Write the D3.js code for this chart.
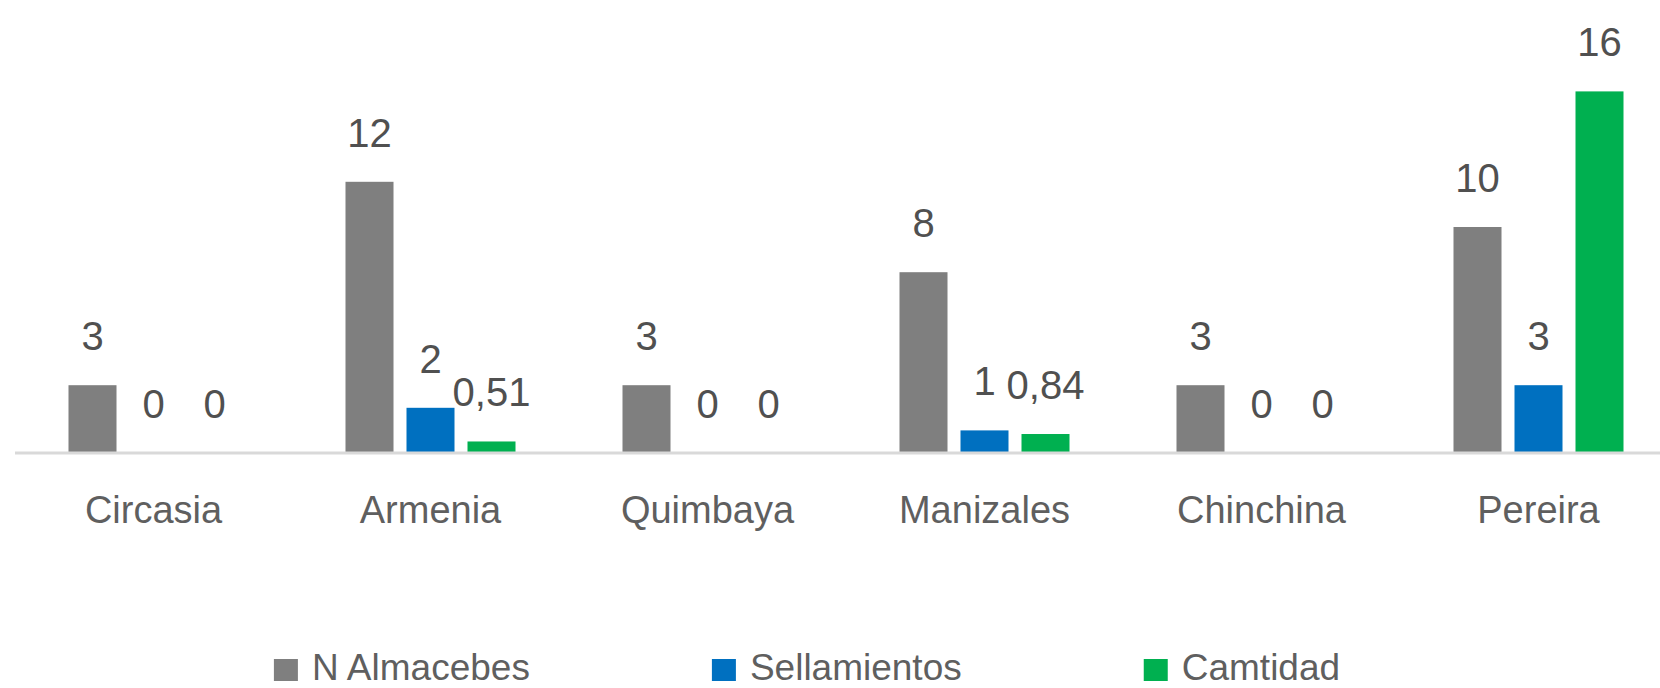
<!DOCTYPE html>
<html>
<head>
<meta charset="utf-8">
<script src="https://cdn.jsdelivr.net/npm/d3@7"></script>
<style>
  body { margin:0; background:#ffffff; }
  svg { display:block; }
  text { font-family: "Liberation Sans", Arial, sans-serif; }
</style>
</head>
<body>
<svg width="1660" height="688"></svg>
<script>
//---------------- data
let cities = ['Circasia','Armenia','Quimbaya','Manizales','Chinchina','Pereira'];
let seriesNames = ['N Almacebes','Sellamientos','Camtidad'];
let almacenes = [3,12,3,8,3,10];
let sellamientos = [0,2,0,1,0,3];
let cantidad = [0,0.51,0,0.84,0,16];
let colors = ['#7f7f7f','#0070c0','#00b050'];

let values = [almacenes, sellamientos, cantidad];
//--------------------------------------
let svg = d3.select("svg");
let width = +svg.attr("width");

let baseY = 453;

let x0 = d3.scaleBand()
    .domain(cities)
    .range([15, 15 + 277 * cities.length]);

let x1 = d3.scaleBand()
    .domain(seriesNames)
    .range([0, 170])
    .paddingInner(13 / 61);

let groupOffset = (x0.bandwidth() - 170) / 2;

let y = d3.scaleLinear()
    .domain([0, 18])
    .range([baseY, baseY - 18 * 22.6]);

function fmt(v){
  return String(v).replace('.', ',');
}

let rows = [];
seriesNames.forEach(function(s, si){
  cities.forEach(function(c, ci){
    rows.push({city:c, series:s, value:values[si][ci], color:colors[si]});
  });
});

// bars
svg.append("g")
    .attr("class", "bars")
  .selectAll("rect")
  .data(rows)
  .enter().append("rect")
    .attr("x", function(d){ return x0(d.city) + groupOffset + x1(d.series); })
    .attr("y", function(d){ return y(d.value); })
    .attr("width", x1.bandwidth())
    .attr("height", function(d){ return baseY - y(d.value); })
    .attr("fill", function(d){ return d.color; });

// category axis (only the baseline is visible)
let xAxis = svg.append("g")
    .attr("transform", "translate(0," + baseY + ")")
    .call(d3.axisBottom(x0).tickSize(0).tickPadding(0));
xAxis.select(".domain").remove();
xAxis.selectAll("text").remove();
xAxis.append("line")
    .attr("x1", 15).attr("x2", width)
    .attr("y1", 0).attr("y2", 0)
    .attr("stroke", "#d9d9d9")
    .attr("stroke-width", 3);

svg.append("g")
  .selectAll("text")
  .data(cities)
  .enter().append("text")
    .attr("x", function(d){ return x0(d) + x0.bandwidth() / 2; })
    .attr("y", 523)
    .attr("text-anchor", "middle")
    .style("font-size", "38px")
    .style("fill", "#5f5f5f")
    .text(function(d){ return d; });

// data labels
svg.append("g")
  .selectAll("text")
  .data(rows)
  .enter().append("text")
    .attr("x", function(d){ return x0(d.city) + groupOffset + x1(d.series) + x1.bandwidth() / 2; })
    .attr("y", function(d){ return y(d.value) - 35; })
    .attr("text-anchor", "middle")
    .style("font-size", "40px")
    .style("fill", "#505050")
    .text(function(d){ return fmt(d.value); });

// legend
let legend = svg.append("g").attr("class", "legend");
let items = legend.selectAll("g")
  .data(seriesNames)
  .enter().append("g");
items.append("rect")
    .attr("y", 659)
    .attr("width", 24)
    .attr("height", 22)
    .attr("fill", function(d, i){ return colors[i]; });
items.append("text")
    .attr("x", 38)
    .attr("y", 680)
    .style("font-size", "37px")
    .style("fill", "#5f5f5f")
    .text(function(d){ return d; });

let pos = 0;
let widths = [];
items.each(function(){ widths.push(38 + this.querySelector("text").getComputedTextLength()); });
let gap = 182;
let total = d3.sum(widths) + gap * (widths.length - 1);
let start = 807 - total / 2;
items.attr("transform", function(d, i){
  let t = "translate(" + (start + pos) + ",0)";
  pos += widths[i] + gap;
  return t;
});
</script>
</body>
</html>
